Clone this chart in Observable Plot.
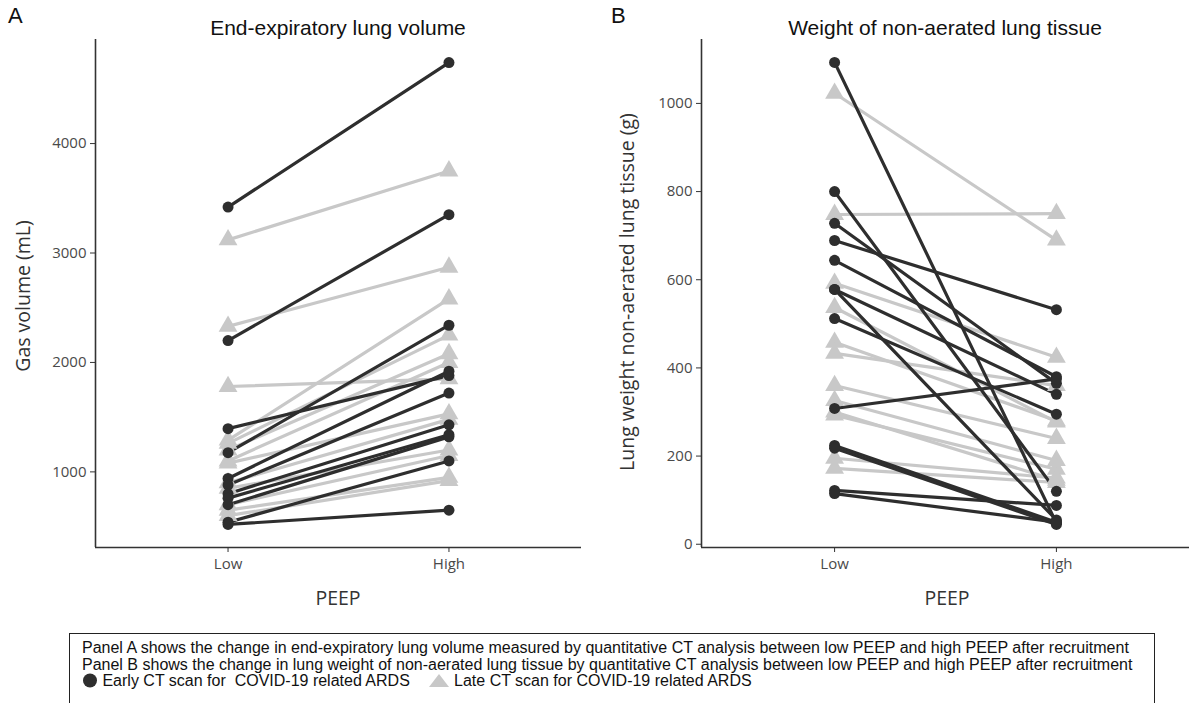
<!DOCTYPE html>
<html>
<head>
<meta charset="utf-8">
<script src="https://cdn.jsdelivr.net/npm/d3@7"></script>
<script src="https://cdn.jsdelivr.net/npm/@observablehq/plot@0.6"></script>
<style>
  html, body { margin: 0; padding: 0; background: #fff; }
  #wrap { position: relative; width: 1190px; height: 703px; overflow: hidden; font-family: "Liberation Sans", Arial, sans-serif; }
  .panel { position: absolute; top: 0; z-index: 1; }
  .txt { position: absolute; z-index: 2; }
  .letter { font-size: 22px; color: #111; }
  .title { font-size: 21px; color: #111; text-align: center; white-space: nowrap; }
  .axt { font-family: "Open Sans", sans-serif; font-size: 19.5px; color: #333; text-align: center; white-space: nowrap; }
  .panel svg { font-family: "Open Sans", sans-serif; }
  #legend { position: absolute; z-index: 2; left: 69px; top: 633px; width: 1086px; height: 90px; border: 1px solid #222; box-sizing: border-box; padding: 6px 0 0 12px; font-size: 16px; line-height: 16.5px; color: #111; white-space: nowrap; }
  #legend svg { vertical-align: -2px; }
</style>
</head>
<body>
<div id="wrap">
  <div id="panelA" class="panel" style="left:0px;"></div>
  <div id="panelB" class="panel" style="left:600px;"></div>
  <div class="txt letter" style="left:8px; top:3px;">A</div>
  <div class="txt letter" style="left:611px; top:3px;">B</div>
  <div class="txt title" style="left:88px; width:500px; top:16px;">End-expiratory lung volume</div>
  <div class="txt title" style="left:695px; width:500px; top:16px;">Weight of non-aerated lung tissue</div>
  <div class="txt axt" style="left:338px; width:400px; margin-left:-200px; top:584px;">PEEP</div>
  <div class="txt axt" style="left:947px; width:400px; margin-left:-200px; top:584px;">PEEP</div>
  <div class="txt axt" style="left:23px; top:296px; width:500px; margin-left:-250px; margin-top:-14px; line-height:28px; transform: rotate(-90deg);">Gas volume (mL)</div>
  <div class="txt axt" style="left:627px; top:292px; width:500px; margin-left:-250px; margin-top:-14px; line-height:28px; transform: rotate(-90deg);">Lung weight non-aerated lung tissue (g)</div>
  <div id="legend"></div>
</div>
<script>
// Categories
const peep = ["Low", "High"];
const groups = ["Early CT scan for\u00a0 COVID-19 related ARDS", "Late CT scan for COVID-19 related ARDS"];

// Panel A: end-expiratory lung volume (mL)
const aEarlyLow  = [3420, 2200, 1175, 1395, 940, 880, 800, 760, 700, 540, 520];
const aEarlyHigh = [4740, 3350, 2340, 1880, 1920, 1720, 1430, 1340, 1320, 1100, 650];
const aLateLow   = [3120, 2330, 1780, 1290, 1260, 1200, 1100, 1080, 900, 850, 700, 650, 600];
const aLateHigh  = [3750, 2870, 1850, 2580, 2250, 2080, 2000, 1530, 1480, 1200, 1150, 950, 920];

// Panel B: weight of non-aerated lung tissue (g)
const bEarlyLow  = [1093, 800, 728, 689, 644, 578, 578, 512, 308, 224, 218, 122, 115];
const bEarlyHigh = [48, 120, 365, 532, 380, 340, 55, 295, 375, 50, 45, 88, 50];
const bLateLow   = [1023, 748, 592, 537, 458, 433, 360, 326, 300, 293, 195, 172];
const bLateHigh  = [690, 750, 424, 277, 280, 360, 240, 190, 145, 170, 150, 140];

// Tick values
const aTicks = [1000, 2000, 3000, 4000];
const bTicks = [0, 200, 400, 600, 800, 1000];

const DARK = "#2e2e2e", GRAY = "#c8c8c8";

function toLong(lowArr, highArr, group, prefix) {
  const rows = [];
  lowArr.forEach((v, i) => {
    rows.push({id: prefix + i, group, peep: peep[0], value: v});
    rows.push({id: prefix + i, group, peep: peep[1], value: highArr[i]});
  });
  return rows;
}

function panel(early, late, yDomain, ticks, width, marginLeft, marginRight) {
  const xDomain = [0.4, 2.6];
  const xPos = d => peep.indexOf(d.peep) + 1;
  return Plot.plot({
    width, height: 640,
    marginLeft, marginRight, marginTop: 39, marginBottom: 93,
    style: {fontSize: "15px", color: "#4a4a4a", background: "transparent", overflow: "visible"},
    x: {domain: xDomain},
    y: {domain: yDomain},
    marks: [
      Plot.axisY({ticks, tickFormat: d => String(d), tickSize: 5, tickPadding: 4, label: null, stroke: "#333"}),
      Plot.axisX({ticks: [1, 2], tickFormat: i => peep[i - 1], tickSize: 5, tickPadding: 6, label: null, stroke: "#333"}),
      Plot.line(late, {x: xPos, y: "value", z: "id", stroke: GRAY, strokeWidth: 3.2}),
      Plot.line(early, {x: xPos, y: "value", z: "id", stroke: DARK, strokeWidth: 3.2}),
      Plot.dot(late, {x: xPos, y: "value", symbol: "triangle", r: 7, fill: GRAY}),
      Plot.dot(early, {x: xPos, y: "value", symbol: "circle", r: 5.5, fill: DARK}),
      Plot.ruleX([xDomain[0]], {stroke: "#333", strokeWidth: 1.6}),
      Plot.ruleY([yDomain[0]], {stroke: "#333", strokeWidth: 1.6})
    ]
  });
}

const aEarly = toLong(aEarlyLow, aEarlyHigh, groups[0], "ae");
const aLate = toLong(aLateLow, aLateHigh, groups[1], "al");
const bEarly = toLong(bEarlyLow, bEarlyHigh, groups[0], "be");
const bLate = toLong(bLateLow, bLateHigh, groups[1], "bl");

document.getElementById("panelA").append(panel(aEarly, aLate, [309, 4951], aTicks, 600, 95, 19));
document.getElementById("panelB").append(panel(bEarly, bLate, [-7.4, 1145], bTicks, 590, 101, 1));

document.getElementById("legend").innerHTML =
  "Panel A shows the change in end-expiratory lung volume measured by quantitative CT analysis between low PEEP and high PEEP after recruitment<br>" +
  "Panel B shows the change in lung weight of non-aerated lung tissue by quantitative CT analysis between low PEEP and high PEEP after recruitment<br>" +
  `<svg width="16" height="15"><circle cx="8" cy="7.5" r="7" fill="${DARK}"/></svg> ${groups[0]} &nbsp;&nbsp;&nbsp;` +
  `<svg width="22" height="15"><polygon points="11,1 21,14 1,14" fill="${GRAY}"/></svg> ${groups[1]}`;
</script>
</body>
</html>
